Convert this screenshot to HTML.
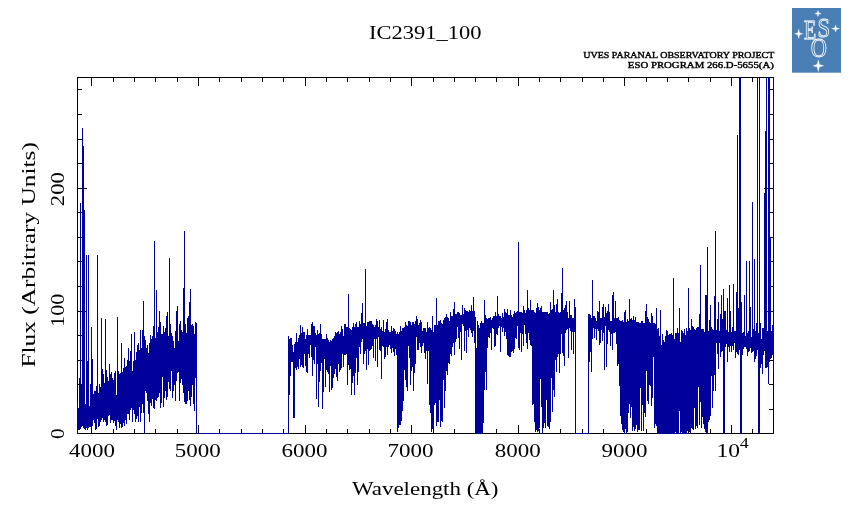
<!DOCTYPE html>
<html lang="en">
<head>
<meta charset="utf-8">
<title>IC2391_100</title>
<style>
html,body{margin:0;padding:0;background:#fff;}
body{width:851px;height:511px;overflow:hidden;position:relative;}
svg{position:absolute;left:0;top:0;display:block;will-change:transform;-webkit-font-smoothing:antialiased;}
text{font-family:"Liberation Serif","Times New Roman",serif;fill:#000;}
.lab{font-size:18.6px;}
.small{font-size:9.2px;font-weight:normal;stroke:#000;stroke-width:0.4px;}
.num{font-size:18px;}
.logo text{fill:#fff;font-family:"Liberation Serif",serif;}
</style>
</head>
<body>
<svg width="851" height="511" viewBox="0 0 851 511">
<rect width="851" height="511" fill="#fff"/>
<!-- frame -->
<g shape-rendering="crispEdges" fill="none">
<path d="M77.5 77V434M773.5 77V434M77 77.5H774M77 433.5H774" stroke="#000" stroke-width="1"/>
<!-- ticks -->
<path d="M91.5 425V433M91.5 78V86M113.5 429V433M113.5 78V82M134.5 429V433M134.5 78V82M155.5 429V433M155.5 78V82M177.5 429V433M177.5 78V82M198.5 425V433M198.5 78V86M219.5 429V433M219.5 78V82M241.5 429V433M241.5 78V82M262.5 429V433M262.5 78V82M283.5 429V433M283.5 78V82M305.5 425V433M305.5 78V86M326.5 429V433M326.5 78V82M347.5 429V433M347.5 78V82M369.5 429V433M369.5 78V82M390.5 429V433M390.5 78V82M411.5 425V433M411.5 78V86M433.5 429V433M433.5 78V82M454.5 429V433M454.5 78V82M475.5 429V433M475.5 78V82M496.5 429V433M496.5 78V82M518.5 425V433M518.5 78V86M539.5 429V433M539.5 78V82M560.5 429V433M560.5 78V82M582.5 429V433M582.5 78V82M603.5 429V433M603.5 78V82M624.5 425V433M624.5 78V86M646.5 429V433M646.5 78V82M667.5 429V433M667.5 78V82M688.5 429V433M688.5 78V82M710.5 429V433M710.5 78V82M731.5 425V433M731.5 78V86M752.5 429V433M752.5 78V82M78 433.5H87M764 433.5H773M78 409.5H82M769 409.5H773M78 384.5H82M769 384.5H773M78 360.5H82M769 360.5H773M78 335.5H82M769 335.5H773M78 311.5H87M764 311.5H773M78 286.5H82M769 286.5H773M78 261.5H82M769 261.5H773M78 237.5H82M769 237.5H773M78 212.5H82M769 212.5H773M78 188.5H87M764 188.5H773M78 163.5H82M769 163.5H773M78 139.5H82M769 139.5H773M78 114.5H82M769 114.5H773M78 89.5H82M769 89.5H773" stroke="#000" stroke-width="1"/>
<!-- spectrum -->
<path d="M77.5 402V434M78.5 408V430M79.5 378V430M80.5 203V429M81.5 385V427M82.5 128V426M83.5 146V428M84.5 210V429M85.5 404V430M86.5 255V428M87.5 361V430M88.5 255V428M89.5 406V427M90.5 384V427M91.5 327V426M92.5 359V426M93.5 394V420M94.5 391V423M95.5 391V430M96.5 386V429M97.5 255V419M98.5 393V427M99.5 384V426M100.5 387V422M101.5 318V420M102.5 369V418M103.5 374V422M104.5 383V420M105.5 319V422M106.5 370V426M107.5 377V425M108.5 381V416M109.5 364V415M110.5 374V423M111.5 372V420M112.5 378V420M113.5 380V423M114.5 373V421M115.5 371V426M116.5 395V430M117.5 317V420M118.5 371V422M119.5 374V428M120.5 373V424M121.5 343V428M122.5 372V427M123.5 368V423M124.5 358V426M125.5 367V420M126.5 366V424M127.5 360V414M128.5 348V414M129.5 361V420M130.5 351V410M131.5 334V408M132.5 371V422M133.5 361V410M134.5 332V414M135.5 360V422M136.5 352V419M137.5 345V416M138.5 343V422M139.5 350V407M140.5 330V422M141.5 348V413M142.5 330V404M143.5 301V413M144.5 336V434M145.5 340V391M146.5 348V393M147.5 345V401M148.5 353V414M149.5 343V422M150.5 335V403M151.5 339V406M152.5 336V399M153.5 326V408M154.5 241V409M155.5 338V400M156.5 290V401M157.5 332V398M158.5 327V397M159.5 311V393M160.5 322V408M161.5 334V403M162.5 334V377M163.5 326V407M164.5 332V398M165.5 328V391M166.5 316V400M167.5 312V397M168.5 336V382M169.5 258V389M170.5 324V391M171.5 333V371M172.5 336V398M173.5 341V391M174.5 348V385M175.5 331V401M176.5 311V381M177.5 306V373M178.5 341V372M179.5 324V401M180.5 321V383M181.5 330V379M182.5 332V385M183.5 288V393M184.5 231V402M185.5 324V404M186.5 333V404M187.5 318V401M188.5 316V391M189.5 302V400M190.5 289V406M191.5 325V397M192.5 324V385M193.5 326V404M194.5 334V411M195.5 322V378M196.5 323V434M288.5 336V434M289.5 339V395M290.5 338V376M291.5 338V362M292.5 345V362M293.5 352V418M294.5 344V418M295.5 342V368M296.5 333V370M297.5 342V367M298.5 338V369M299.5 335V359M300.5 325V367M301.5 333V365M302.5 327V367M303.5 332V368M304.5 332V354M305.5 339V366M306.5 335V372M307.5 329V373M308.5 335V354M309.5 335V358M310.5 335V345M311.5 324V357M312.5 322V376M313.5 326V360M314.5 326V364M315.5 333V347M316.5 335V399M317.5 330V364M318.5 334V407M319.5 333V382M320.5 324V371M321.5 334V363M322.5 339V409M323.5 339V392M324.5 339V359M325.5 339V387M326.5 334V370M327.5 338V372M328.5 340V374M329.5 342V392M330.5 340V366M331.5 341V390M332.5 339V388M333.5 338V378M334.5 336V374M335.5 332V369M336.5 333V377M337.5 332V381M338.5 331V364M339.5 334V372M340.5 332V370M341.5 326V368M342.5 329V354M343.5 336V367M344.5 324V355M345.5 324V355M346.5 327V354M347.5 327V385M348.5 294V365M349.5 328V370M350.5 329V369M351.5 330V395M352.5 327V383M353.5 323V376M354.5 327V395M355.5 324V373M356.5 322V358M357.5 327V385M358.5 327V372M359.5 321V347M360.5 324V354M361.5 313V342M362.5 303V339M363.5 323V364M364.5 323V354M365.5 269V351M366.5 326V370M367.5 322V349M368.5 322V365M369.5 321V351M370.5 321V350M371.5 321V349M372.5 324V346M373.5 325V358M374.5 327V339M375.5 325V361M376.5 319V339M377.5 321V367M378.5 327V337M379.5 320V350M380.5 329V351M381.5 327V379M382.5 331V346M383.5 320V347M384.5 332V359M385.5 329V357M386.5 322V347M387.5 319V355M388.5 330V347M389.5 332V345M390.5 332V349M391.5 326V353M392.5 331V348M393.5 328V352M394.5 329V356M395.5 331V349M396.5 334V355M397.5 332V432M398.5 334V428M399.5 332V425M400.5 326V425M401.5 331V421M402.5 328V411M403.5 328V401M404.5 327V370M405.5 322V380M406.5 325V387M407.5 326V391M408.5 321V346M409.5 321V358M410.5 322V385M411.5 325V371M412.5 322V367M413.5 322V391M414.5 324V373M415.5 321V364M416.5 316V337M417.5 319V350M418.5 325V350M419.5 323V343M420.5 320V347M421.5 322V353M422.5 331V346M423.5 328V343M424.5 328V353M425.5 328V359M426.5 332V351M427.5 322V384M428.5 328V351M429.5 327V405M430.5 328V413M431.5 330V432M432.5 316V429M433.5 332V429M434.5 325V405M435.5 325V403M436.5 298V426M437.5 325V422M438.5 321V422M439.5 321V400M440.5 320V427M441.5 323V421M442.5 324V422M443.5 320V380M444.5 318V408M445.5 317V391M446.5 314V371M447.5 317V375M448.5 318V363M449.5 321V364M450.5 312V354M451.5 316V356M452.5 316V347M453.5 309V343M454.5 302V355M455.5 314V342M456.5 314V339M457.5 312V327M458.5 312V338M459.5 313V349M460.5 315V332M461.5 315V360M462.5 305V324M463.5 314V326M464.5 308V351M465.5 310V331M466.5 311V353M467.5 311V330M468.5 312V337M469.5 310V328M470.5 311V330M471.5 305V333M472.5 311V337M473.5 297V331M474.5 311V343M475.5 317V434M476.5 348V434M477.5 321V434M478.5 325V434M479.5 328V434M480.5 323V434M481.5 321V434M482.5 323V434M483.5 323V423M484.5 300V390M485.5 315V372M486.5 318V390M487.5 319V348M488.5 318V337M489.5 318V338M490.5 317V333M491.5 320V350M492.5 318V328M493.5 316V329M494.5 316V347M495.5 312V346M496.5 316V334M497.5 296V335M498.5 314V328M499.5 316V326M500.5 316V352M501.5 318V327M502.5 313V332M503.5 317V328M504.5 309V336M505.5 312V332M506.5 313V339M507.5 309V355M508.5 315V356M509.5 315V357M510.5 310V357M511.5 315V352M512.5 317V351M513.5 314V353M514.5 311V349M515.5 313V338M516.5 312V339M517.5 311V326M518.5 242V348M519.5 312V350M520.5 312V333M521.5 312V352M522.5 313V334M523.5 306V346M524.5 310V325M525.5 313V334M526.5 310V343M527.5 290V349M528.5 308V333M529.5 310V340M530.5 300V345M531.5 310V346M532.5 310V405M533.5 310V404M534.5 312V422M535.5 313V432M536.5 308V430M537.5 303V432M538.5 307V431M539.5 310V428M540.5 308V379M541.5 306V407M542.5 312V434M543.5 312V428M544.5 312V423M545.5 312V428M546.5 312V400M547.5 312V426M548.5 314V427M549.5 313V429M550.5 302V422M551.5 310V378M552.5 309V412M553.5 290V390M554.5 305V397M555.5 312V360M556.5 304V372M557.5 299V357M558.5 312V354M559.5 313V373M560.5 312V354M561.5 293V334M562.5 268V353M563.5 310V356M564.5 308V366M565.5 305V333M566.5 301V330M567.5 312V329M568.5 318V358M569.5 301V328M570.5 315V331M571.5 315V350M572.5 318V332M573.5 318V354M574.5 299V332M575.5 307V434M588.5 314V434M589.5 314V362M590.5 315V352M591.5 318V372M592.5 280V339M593.5 316V328M594.5 316V338M595.5 318V329M596.5 321V340M597.5 311V329M598.5 312V331M599.5 301V345M600.5 318V343M601.5 318V330M602.5 307V341M603.5 304V333M604.5 317V370M605.5 307V326M606.5 313V367M607.5 311V344M608.5 304V330M609.5 312V332M610.5 321V346M611.5 321V334M612.5 295V350M613.5 292V333M614.5 318V333M615.5 301V332M616.5 318V344M617.5 318V366M618.5 317V364M619.5 320V386M620.5 321V416M621.5 321V424M622.5 320V430M623.5 322V432M624.5 312V434M625.5 310V429M626.5 322V434M627.5 319V432M628.5 321V413M629.5 299V404M630.5 319V418M631.5 318V407M632.5 320V431M633.5 316V427M634.5 320V431M635.5 317V429M636.5 322V425M637.5 322V432M638.5 322V430M639.5 323V430M640.5 323V388M641.5 321V431M642.5 321V405M643.5 323V431M644.5 323V413M645.5 311V417M646.5 304V371M647.5 317V401M648.5 319V404M649.5 322V385M650.5 323V386M651.5 313V406M652.5 316V398M653.5 323V357M654.5 323V428M655.5 324V424M656.5 308V426M657.5 329V434M658.5 328V434M659.5 336V434M660.5 310V434M661.5 345V434M662.5 334V434M663.5 340V434M664.5 342V434M665.5 336V434M666.5 330V434M667.5 331V434M668.5 335V434M669.5 334V434M670.5 334V434M671.5 333V434M672.5 335V434M673.5 278V434M674.5 339V434M675.5 333V432M676.5 333V434M677.5 328V434M678.5 333V434M679.5 308V411M680.5 342V434M681.5 330V432M682.5 331V434M683.5 333V434M684.5 329V434M685.5 335V434M686.5 328V434M687.5 331V431M688.5 288V430M689.5 328V432M690.5 330V434M691.5 319V428M692.5 326V429M693.5 327V430M694.5 329V408M695.5 330V429M696.5 328V426M697.5 327V428M698.5 327V387M699.5 314V425M700.5 265V402M701.5 329V428M702.5 329V417M703.5 329V424M704.5 332V429M705.5 295V432M706.5 295V434M707.5 247V434M708.5 331V422M709.5 320V420M710.5 305V416M711.5 327V376M712.5 329V408M713.5 330V391M714.5 296V375M715.5 231V391M716.5 330V343M717.5 319V354M718.5 302V369M719.5 331V343M720.5 314V357M721.5 295V352M722.5 319V351M723.5 289V434M724.5 311V434M725.5 311V347M726.5 330V344M727.5 298V362M728.5 332V347M729.5 285V352M730.5 311V346M731.5 332V352M732.5 327V346M733.5 284V350M734.5 331V343M735.5 331V358M736.5 292V352M737.5 135V354M738.5 308V355M739.5 77V350M740.5 77V434M741.5 302V434M742.5 333V355M743.5 332V349M744.5 295V347M745.5 336V347M746.5 261V349M747.5 333V356M748.5 331V352M749.5 261V351M750.5 307V348M751.5 337V353M752.5 202V352M753.5 329V351M754.5 259V362M755.5 331V359M756.5 323V356M757.5 77V350M758.5 333V434M759.5 77V434M760.5 323V368M761.5 339V364M762.5 328V374M763.5 328V355M764.5 193V351M765.5 131V368M766.5 77V368M767.5 331V367M768.5 77V384M769.5 77V362M770.5 237V359M771.5 331V358M772.5 325V355M773.5 77V372" stroke="#00009b" stroke-width="1"/>
<path d="M196 433.5H289M575 433.5H589" stroke="#00009b" stroke-width="1"/>
</g>
<!-- title -->
<text class="lab" x="369" y="38.7" textLength="112.5" lengthAdjust="spacingAndGlyphs">IC2391_100</text>
<text class="small" x="583.3" y="58.1" textLength="191" lengthAdjust="spacingAndGlyphs">UVES PARANAL OBSERVATORY PROJECT</text>
<text class="small" x="627.8" y="68.1" textLength="146" lengthAdjust="spacingAndGlyphs">ESO PROGRAM 266.D-5655(A)</text>
<!-- x labels -->
<g class="num">
<text x="69.0" y="456.5" textLength="46" lengthAdjust="spacingAndGlyphs">4000</text>
<text x="174.8" y="456.5" textLength="46" lengthAdjust="spacingAndGlyphs">5000</text>
<text x="281.4" y="456.5" textLength="46" lengthAdjust="spacingAndGlyphs">6000</text>
<text x="387.6" y="456.5" textLength="46" lengthAdjust="spacingAndGlyphs">7000</text>
<text x="494.8" y="456.5" textLength="46" lengthAdjust="spacingAndGlyphs">8000</text>
<text x="601.4" y="456.5" textLength="46" lengthAdjust="spacingAndGlyphs">9000</text>
<text x="716.6" y="456.6" textLength="23.5" lengthAdjust="spacingAndGlyphs">10</text>
<text x="739.8" y="448" font-size="14" textLength="9" lengthAdjust="spacingAndGlyphs">4</text>
</g>
<text class="lab" x="352" y="494.7" textLength="146.5" lengthAdjust="spacingAndGlyphs">Wavelength (Å)</text>
<!-- y labels -->
<g class="num">
<text transform="translate(64 439) rotate(-90)" textLength="10.6" lengthAdjust="spacingAndGlyphs">0</text>
<text transform="translate(64 327) rotate(-90)" textLength="33.5" lengthAdjust="spacingAndGlyphs">100</text>
<text transform="translate(64 206.2) rotate(-90)" textLength="34" lengthAdjust="spacingAndGlyphs">200</text>
</g>
<text class="lab" transform="translate(35.3 367.6) rotate(-90)" textLength="225.5" lengthAdjust="spacingAndGlyphs">Flux (Arbitrary Units)</text>
<!-- ESO logo -->
<g class="logo">
<rect x="792" y="8" width="49" height="64.7" fill="#4a7fb5"/>
<g fill="none" stroke="#fff" stroke-width="0.85" style="fill:none">
<text x="804" y="38.6" font-size="27" textLength="12.2" lengthAdjust="spacingAndGlyphs" style="fill:none">E</text>
<text x="817.4" y="37" font-size="28" textLength="12.6" lengthAdjust="spacingAndGlyphs" style="fill:none">S</text>
<text x="810.8" y="57.2" font-size="26.5" textLength="16.2" lengthAdjust="spacingAndGlyphs" style="fill:none">O</text>
</g>
<path d="M818.0 10.5L818.8 12.7L821.1 13.5L818.8 14.3L818.0 16.5L817.2 14.3L814.9 13.5L817.2 12.7ZM835.6 25.2L836.4 27.8L839.5 28.6L836.4 29.4L835.6 32.0L834.8 29.4L831.7 28.6L834.8 27.8ZM798.7 29.2L799.6 32.9L802.8 33.8L799.6 34.7L798.7 38.4L797.8 34.7L794.6 33.8L797.8 32.9ZM818.3 59.9L819.4 64.5L823.6 65.7L819.4 66.9L818.3 71.5L817.1 66.9L813.0 65.7L817.1 64.5Z" fill="#fff" stroke="#fff" stroke-width="0.35" stroke-linejoin="round"/>
</g>
</svg>
</body>
</html>
